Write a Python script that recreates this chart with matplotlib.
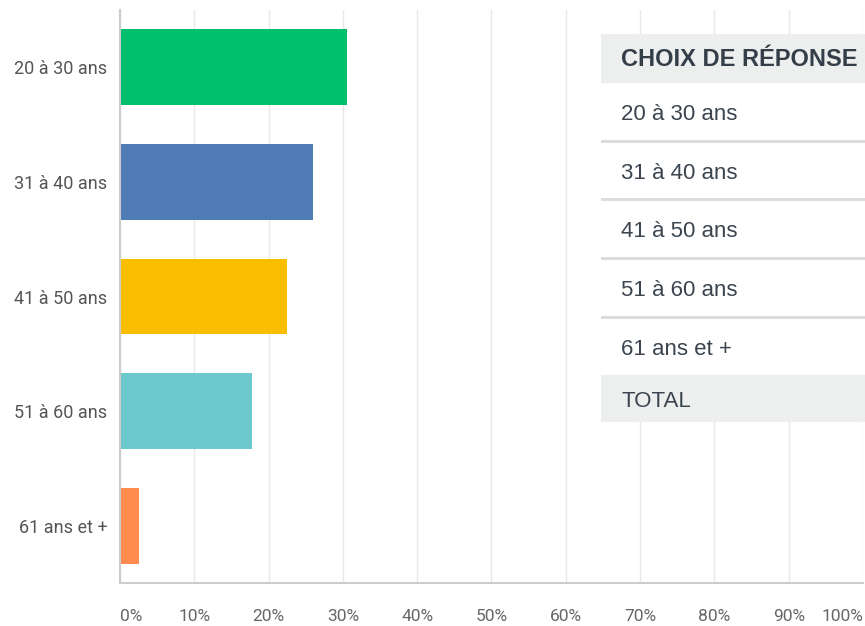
import matplotlib
matplotlib.use("Agg")
import matplotlib.pyplot as plt
from matplotlib.patches import Rectangle

# données
categories = ["20 à 30 ans", "31 à 40 ans", "41 à 50 ans", "51 à 60 ans", "61 ans et +"]
values = [30.6, 26.0, 22.5, 17.7, 2.6]
colors = ["#00bf6f", "#507cb6", "#f9be00", "#6bc8cd", "#ff8b4f"]
xticks = [0, 10, 20, 30, 40, 50, 60, 70, 80, 90, 100]
xtick_labels = [f"{t}%" for t in xticks]
header = "CHOIX DE RÉPONSE"
total_label = "TOTAL"

tick_font = ["Roboto", "DejaVu Sans"]
table_font = ["Liberation Sans", "DejaVu Sans"]

W, H = 865, 626
fig = plt.figure(figsize=(W / 100, H / 100), dpi=100)

# graphique principal
ax = fig.add_axes([120 / W, 1 - 583 / H, 743 / W, 573 / H])
ax.barh(categories, values, height=0.66, color=colors, zorder=2)
ax.set_xlim(0, 100)
ax.set_ylim(4.5, -0.5)
ax.set_xticks(xticks)
ax.set_xticklabels(xtick_labels, family=tick_font, fontsize=12.5, color="#666666")
ax.get_xticklabels()[0].set_ha("left")
ax.get_xticklabels()[-1].set_ha("right")
for lab in ax.get_yticklabels():
    lab.set_family(tick_font)
    lab.set_fontsize(13)
    lab.set_color("#555555")
ax.tick_params(axis="x", length=0, pad=19)
ax.tick_params(axis="y", length=0, pad=9)
ax.grid(axis="x", color="#e8e8e8", linewidth=1, zorder=0)
for s in ["top", "right"]:
    ax.spines[s].set_visible(False)
for s in ["left", "bottom"]:
    ax.spines[s].set_color("#cccccc")
    ax.spines[s].set_linewidth(1.5)

# tableau à droite (coupé au bord)
tx0, ty0, ty1 = 601, 34, 422
tax = fig.add_axes([tx0 / W, 1 - ty1 / H, (W - tx0) / W, (ty1 - ty0) / H])
tax.set_xlim(0, W - tx0)
tax.set_ylim(ty1, ty0)
tax.axis("off")
tw = W - tx0
tax.add_patch(Rectangle((0, ty0), tw, ty1 - ty0, color="white", zorder=0))
tax.add_patch(Rectangle((0, ty0), tw, 48, color="#edeeee", zorder=1))
tax.text(20, ty0 + 25, header, fontsize=17, fontweight="bold", color="#333e48",
         family=table_font, va="center", ha="left")
row_h = 58.7
y = ty0 + 48
for i, cat in enumerate(categories):
    tax.text(20, y + row_h / 2 + 3, cat, fontsize=16, color="#3b4550",
             family=table_font, va="center", ha="left")
    y += row_h
    if i < len(categories) - 1:
        tax.plot([0, tw], [y, y], color="#d9dbdc", linewidth=2, zorder=2)
tax.add_patch(Rectangle((0, y), tw, ty1 - y, color="#edeeee", zorder=1))
tax.text(20, (y + ty1) / 2 + 3, total_label, fontsize=16, color="#3b4550",
         family=table_font, va="center", ha="left")

fig.savefig("out.png", dpi=100, facecolor="white")
